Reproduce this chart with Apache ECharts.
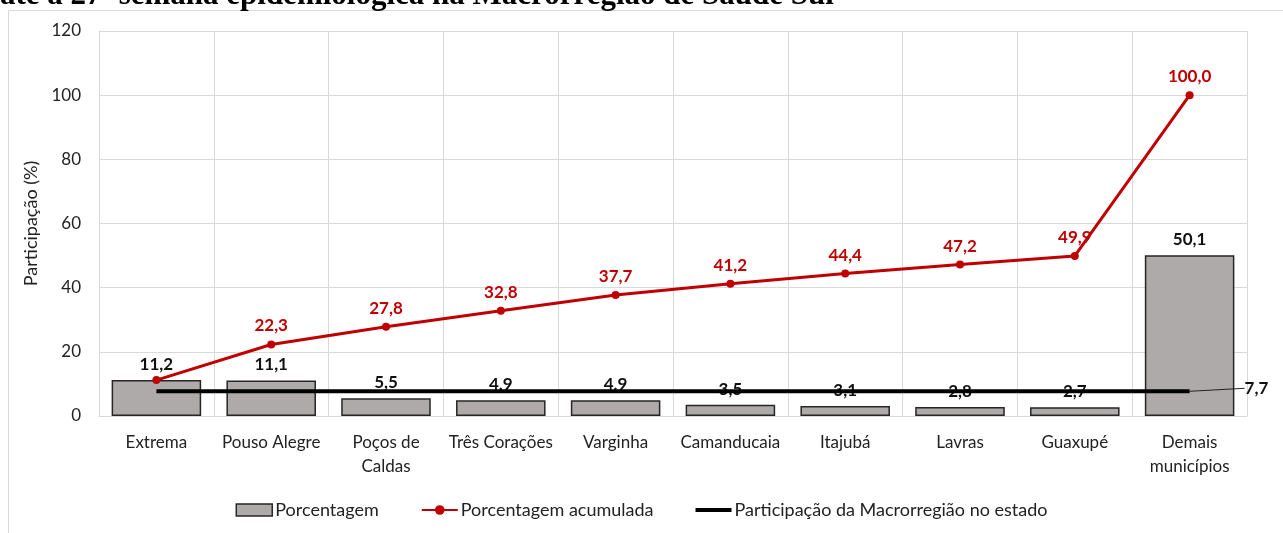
<!DOCTYPE html>
<html>
<head>
<meta charset="utf-8">
<script src="https://cdn.jsdelivr.net/npm/echarts@6/dist/echarts.min.js"></script>
<style>
  html, body { margin: 0; padding: 0; background: #fff; }
  #chart { width: 1283px; height: 533px; }
</style>
</head>
<body>
<div id="chart"></div>
<script>
const categories = ['Extrema', 'Pouso Alegre', 'Poços de\nCaldas', 'Três Corações', 'Varginha',
  'Camanducaia', 'Itajubá', 'Lavras', 'Guaxupé', 'Demais\nmunicípios']
const porcentagem = [11.2, 11.1, 5.5, 4.9, 4.9, 3.5, 3.1, 2.8, 2.7, 50.1]
const acumulada = [11.2, 22.3, 27.8, 32.8, 37.7, 41.2, 44.4, 47.2, 49.9, 100.0]
const participacaoEstado = [7.7, 7.7, 7.7, 7.7, 7.7, 7.7, 7.7, 7.7, 7.7, 7.7]
const yTicks = { min: 0, max: 120, interval: 20 }

const font = 'Lato, "Open Sans", sans-serif'
const fmt = (v) => v.toFixed(1).replace('.', ',')

const chart = echarts.init(document.getElementById('chart'))

const lastIdx = participacaoEstado.length - 1

const option = {
  animation: false,
  textStyle: { fontFamily: font },
  graphic: [
    {
      type: 'rect',
      shape: { x: 8.5, y: 10.5, width: 1290, height: 540 },
      style: { fill: 'none', stroke: '#d9d9d9', lineWidth: 1 },
      silent: true
    },
    {
      type: 'text',
      left: 0,
      top: -20,
      style: {
        text: 'até a 27ª semana epidemiológica na Macrorregião de Saúde Sul',
        font: 'bold 31px "Liberation Serif", "DejaVu Serif", serif',
        fill: '#000'
      }
    }
  ],
  grid: { left: 99, right: 36, top: 31, bottom: 117 },
  legend: {
    bottom: 9,
    left: 'center',
    itemGap: 42,
    itemWidth: 36,
    itemHeight: 12,
    textStyle: { fontSize: 18, color: '#222', fontFamily: font, padding: [0, 0, 0, -2] },
    data: [
      { name: 'Porcentagem', icon: 'rect', itemStyle: { borderWidth: 1.5 } },
      { name: 'Porcentagem acumulada' },
      { name: 'Participação da Macrorregião no estado', icon: 'path://M0,0H36V4H0Z' }
    ]
  },
  xAxis: {
    type: 'category',
    data: categories,
    axisTick: { show: false },
    axisLine: { lineStyle: { color: '#d9d9d9' } },
    axisLabel: { color: '#222', fontSize: 17, margin: 15, lineHeight: 24, interval: 0 },
    splitLine: { show: true, lineStyle: { color: '#d9d9d9' } }
  },
  yAxis: {
    type: 'value',
    min: yTicks.min,
    max: yTicks.max,
    interval: yTicks.interval,
    name: 'Participação (%)',
    nameLocation: 'middle',
    nameGap: 54,
    nameTextStyle: { fontSize: 18, color: '#222' },
    axisLine: { show: true, lineStyle: { color: '#d9d9d9' } },
    axisLabel: { color: '#222', fontSize: 17, margin: 18 },
    splitLine: { lineStyle: { color: '#d9d9d9' } }
  },
  series: [
    {
      name: 'Porcentagem',
      type: 'bar',
      data: porcentagem,
      barWidth: '78%',
      itemStyle: { color: '#aeaaaa', borderColor: '#262626', borderWidth: 1.5 },
      label: {
        show: true,
        position: 'top',
        distance: 7,
        fontWeight: 'bold',
        fontSize: 17,
        color: '#111',
        formatter: (p) => fmt(p.value)
      },
      z: 2
    },
    {
      name: 'Participação da Macrorregião no estado',
      type: 'line',
      data: participacaoEstado.map((v, i) => i === lastIdx
        ? {
            value: v,
            label: { show: true, fontWeight: 'bold', fontSize: 17, color: '#111' },
            labelLine: { show: true, lineStyle: { color: '#222', width: 1 } }
          }
        : v),
      symbol: 'circle',
      symbolSize: 0,
      showSymbol: true,
      lineStyle: { color: '#000', width: 4 },
      itemStyle: { color: '#000' },
      label: {
        show: false,
        position: 'right',
        fontWeight: 'bold',
        fontSize: 17,
        color: '#111',
        formatter: (p) => fmt(p.value)
      },
      labelLayout: { dx: 50, dy: -3 },
      z: 3
    },
    {
      name: 'Porcentagem acumulada',
      type: 'line',
      data: acumulada,
      symbol: 'circle',
      symbolSize: 8,
      lineStyle: { color: '#c00000', width: 3 },
      itemStyle: { color: '#c00000' },
      label: {
        show: true,
        position: 'top',
        distance: 6,
        fontWeight: 'bold',
        fontSize: 17,
        color: '#c00000',
        formatter: (p) => p.dataIndex === 0 ? '' : fmt(p.value)
      },
      z: 4
    }
  ]
}

chart.setOption(option)
</script>
</body>
</html>
